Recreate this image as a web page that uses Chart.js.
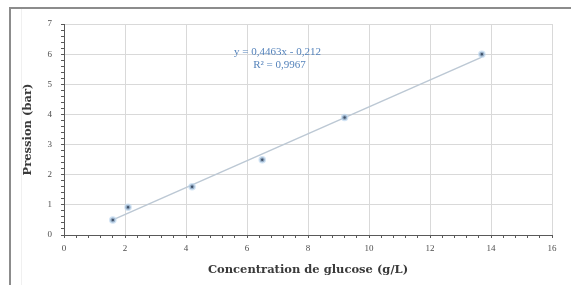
<!DOCTYPE html>
<html>
<head>
<meta charset="utf-8">
<script src="https://cdn.jsdelivr.net/npm/chart.js@4/dist/chart.umd.min.js"></script>
<style>
	body { margin: 0; background: #fff; }
	#wrap { position: absolute; left: 0; top: 0; width: 571px; height: 285px; }
	#frame { position: absolute; left: 9px; top: 7px; width: 562px; height: 278px;
		border-top: 2px solid #8c8c8c; border-left: 2px solid #8c8c8c; box-sizing: border-box; pointer-events: none; }
	#inner { position: absolute; left: 21px; top: 9px; width: 1px; height: 276px; background: #f0f0f0; }
</style>
</head>
<body>
<div id="wrap"><canvas id="myChart" width="571" height="285"></canvas></div>
<div id="inner"></div>
<div id="frame"></div>
<script>
var glucose = [1.6, 2.1, 4.2, 6.5, 9.2, 13.7];
var pression = [0.5, 0.92, 1.6, 2.5, 3.9, 6.0];
// droite de tendance (extrémités)
var trendX = [1.6, 13.7];
var trendY = [0.502, 5.902];
var equation = ["y = 0,4463x - 0,212", "R\u00b2 = 0,9967"];

var serif = "'Liberation Serif', 'DejaVu Serif', serif";
var titleFont = "'DejaVu Serif', serif";

function isMult(v, step) {
	var r = v / step;
	return Math.abs(r - Math.round(r)) < 1e-6;
}

var eqPlugin = {
	id: 'eqLabel',
	afterDatasetsDraw: function(chart) {
		var c = chart.ctx;
		var xs = chart.scales.x, ys = chart.scales.y;
		var px = xs.getPixelForValue(7.0);
		c.save();
		c.fillStyle = '#5583bb';
		c.font = '11px ' + serif;
		c.textAlign = 'center';
		c.textBaseline = 'middle';
		c.fillText(equation[0], px, ys.getPixelForValue(6.08));
		c.fillText(equation[1], px + 2, ys.getPixelForValue(5.62));
		c.restore();
	}
};

var pts = [];
for (let i = 0; i < glucose.length; i++) {
	pts.push({x: glucose[i], y: pression[i]});
}
var trend = [];
for (let i = 0; i < trendX.length; i++) {
	trend.push({x: trendX[i], y: trendY[i]});
}

var ctx = document.getElementById("myChart");
var myChart = new Chart(ctx, {
	type: 'scatter',
	data: {
		datasets: [{
			label: 'tendance',
			data: trend,
			showLine: true,
			borderColor: '#bcc8d4',
			borderWidth: 1.5,
			pointRadius: 0,
			order: 2
		}, {
			label: 'mesures',
			data: pts,
			pointRadius: 2.5,
			pointBackgroundColor: '#3f5068',
			pointBorderColor: 'rgba(190,215,240,0.7)',
			pointBorderWidth: 2.5,
			order: 1
		}]
	},
	options: {
		responsive: false,
		animation: false,
		events: [],
		layout: { padding: { left: 12, top: 24, right: 19, bottom: 0 } },
		plugins: {
			legend: { display: false },
			tooltip: { enabled: false }
		},
		scales: {
			x: {
				type: 'linear',
				min: 0, max: 16,
				afterFit: function(scale) { scale.height = 50; },
				afterBuildTicks: function(scale) {
					var t = [];
					for (let i = 0; i <= 40; i++) t.push({value: i * 0.4});
					scale.ticks = t;
				},
				ticks: {
					autoSkip: false,
					maxRotation: 0,
					padding: 5,
					color: '#4d4d4d',
					font: { family: serif, size: 9 },
					callback: function(v) { return isMult(v, 2) ? String(Math.round(v)) : ''; }
				},
				grid: {
					color: function(c) { return c.tick && isMult(c.tick.value, 2) ? '#d9d9d9' : 'rgba(0,0,0,0)'; },
					tickColor: '#595959',
					tickLength: 3
				},
				border: { color: '#595959', width: 1 },
				title: {
					display: true,
					text: 'Concentration de glucose (g/L)',
					color: '#3a3a3a',
					font: { family: titleFont, size: 11.5, weight: 'bold' },
					padding: { top: 8, bottom: 8 }
				}
			},
			y: {
				type: 'linear',
				min: 0, max: 7,
				afterFit: function(scale) { scale.width = 52; },
				afterBuildTicks: function(scale) {
					var t = [];
					for (let i = 0; i <= 35; i++) t.push({value: i * 0.2});
					scale.ticks = t;
				},
				ticks: {
					autoSkip: false,
					padding: 9,
					color: '#4d4d4d',
					font: { family: serif, size: 9 },
					callback: function(v) { return isMult(v, 1) ? String(Math.round(v)) : ''; }
				},
				grid: {
					color: function(c) { return c.tick && isMult(c.tick.value, 1) ? '#d9d9d9' : 'rgba(0,0,0,0)'; },
					tickColor: '#595959',
					tickLength: 3
				},
				border: { color: '#595959', width: 1 },
				title: {
					display: true,
					text: 'Pression (bar)',
					color: '#3a3a3a',
					font: { family: titleFont, size: 11.5, weight: 'bold' },
					padding: { top: 9, bottom: 9 }
				}
			}
		}
	},
	plugins: [eqPlugin]
});
</script>
</body>
</html>
